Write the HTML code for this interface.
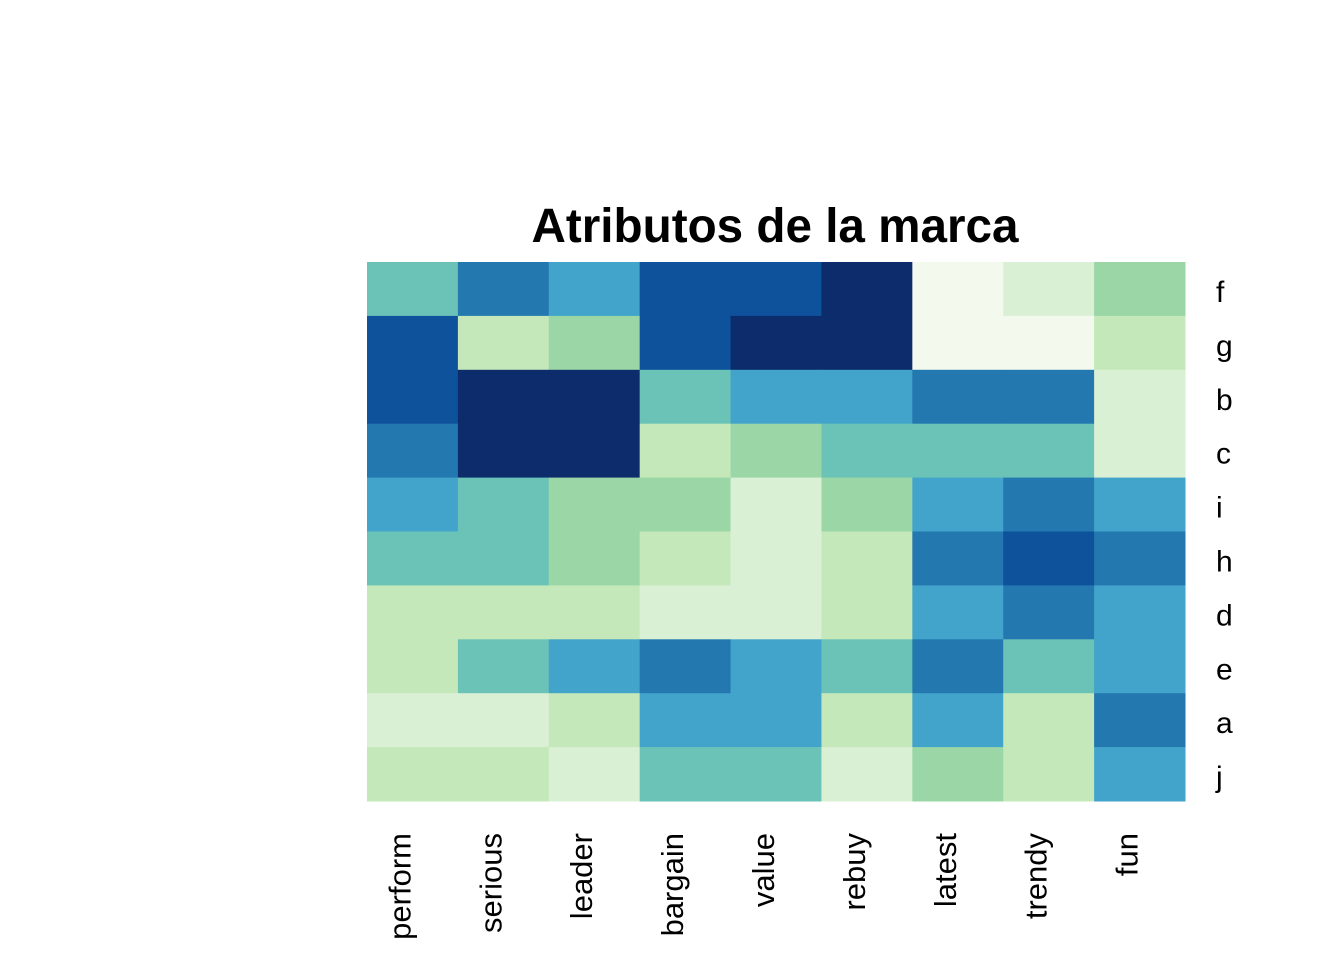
<!DOCTYPE html>
<html><head><meta charset="utf-8"><style>
body{margin:0;background:#fff;}
svg{display:block;font-family:"Liberation Sans",Arial,sans-serif;}
</style></head><body>
<svg id="chart" width="1344" height="960">
<text x="775" y="242" text-anchor="middle" font-size="48" font-weight="bold" textLength="487" lengthAdjust="spacingAndGlyphs">Atributos de la marca</text>
<g id="cells"></g><g id="rlabels"></g><g id="clabels"></g>
</svg>
<script>
const rows = ["f","g","b","c","i","h","d","e","a","j"];
const cols = ["perform","serious","leader","bargain","value","rebuy","latest","trendy","fun"];
const values = [
 [5,7,6,8,8,9,1,2,4],
 [8,3,4,8,9,9,1,1,3],
 [8,9,9,5,6,6,7,7,2],
 [7,9,9,3,4,5,5,5,2],
 [6,5,4,4,2,4,6,7,6],
 [5,5,4,3,2,3,7,8,7],
 [3,3,3,2,2,3,6,7,6],
 [3,5,6,7,6,5,7,5,6],
 [2,2,3,6,6,3,6,3,7],
 [3,3,2,5,5,2,4,3,6]
];
const palette = ["#F3F9EC","#DAF0D5","#C4E8BA","#9BD6A7","#6BC3B7","#42A4CA","#2378B0","#0E529C","#0C2C6B"];
const X0=367,X1=1185,Y0=262,Y1=801;
const cw=(X1-X0)/cols.length, rh=(Y1-Y0)/rows.length;
const xs=i=>X0+i*cw, ys=j=>Y0+j*rh;
const vmin=1,vmax=9;
const color=v=>palette[Math.round((v-vmin)/(vmax-vmin)*(palette.length-1))];
const NS="http://www.w3.org/2000/svg";
const cg=document.getElementById('cells');
values.forEach((row,j)=>row.forEach((v,i)=>{
  const r=document.createElementNS(NS,'rect');
  r.setAttribute('x',xs(i));r.setAttribute('y',ys(j));
  r.setAttribute('width',cw+0.5);r.setAttribute('height',rh+0.5);
  r.setAttribute('fill',color(v));
  
  
  cg.appendChild(r);
}));
const rg=document.getElementById('rlabels');
rows.forEach((n,j)=>{
  const t=document.createElementNS(NS,'text');
  t.setAttribute('x',1216);t.setAttribute('y',ys(j)+rh/2+13);
  t.setAttribute('font-size','30');t.textContent=n;
  
  
  rg.appendChild(t);
});
const clg=document.getElementById('clabels');
cols.forEach((n,i)=>{
  const t=document.createElementNS(NS,'text');
  const cx=xs(i)+cw/2-2;
  t.setAttribute('transform','translate('+cx+',833) rotate(-90)');
  t.setAttribute('text-anchor','end');
  t.setAttribute('font-size','31');t.textContent=n;
  
  
  clg.appendChild(t);
});
</script>
</body></html>
